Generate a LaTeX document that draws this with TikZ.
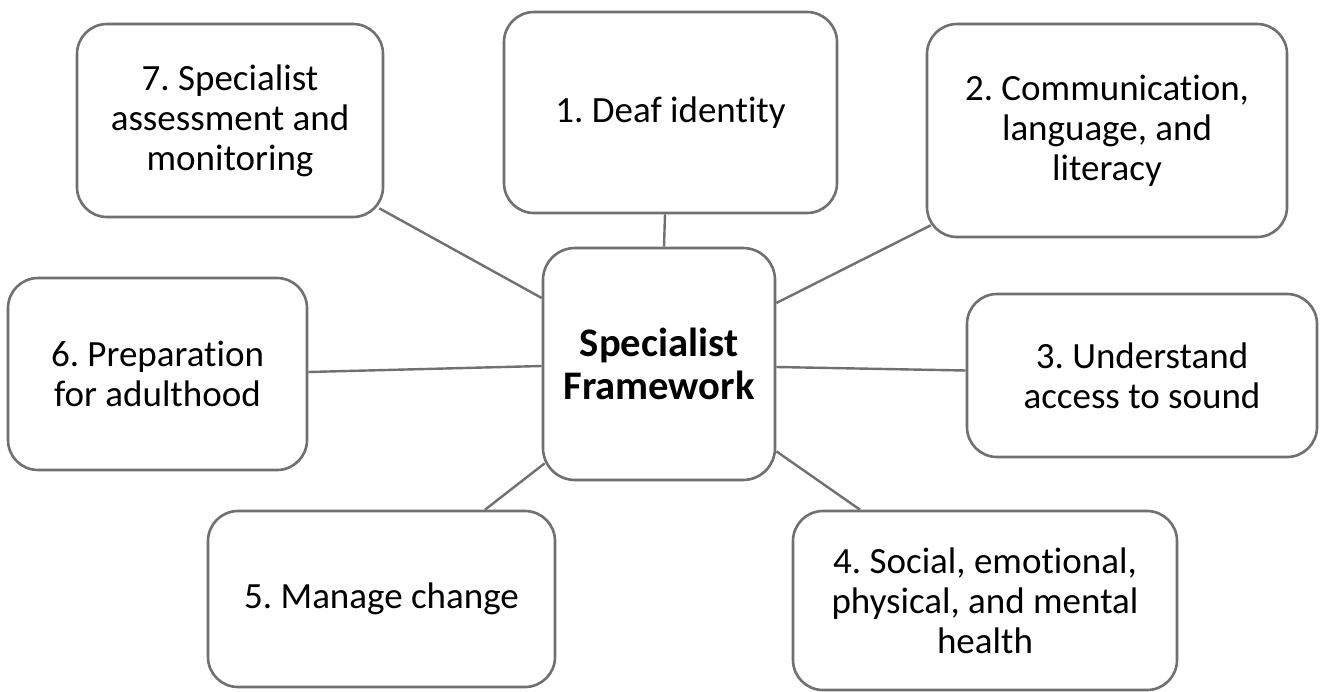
\documentclass[tikz,border=0pt]{standalone}
\usepackage{fontspec}
\setmainfont{Carlito}[Ligatures=NoCommon]
\definecolor{edgegray}{RGB}{112,112,112}
\tikzset{
  topic/.style={draw=edgegray, line width=1.3pt, rounded corners=15pt, fill=white,
    align=center, inner sep=0pt, font=\fontsize{18.5}{20}\selectfont},
  hub/.style={topic, rounded corners=16pt, font=\fontsize{20.3}{21.5}\selectfont\bfseries},
  link/.style={draw=edgegray, line width=1.2pt}
}
\begin{document}
\frenchspacing
\begin{tikzpicture}[x=0.5pt,y=-0.5pt]
\useasboundingbox[fill=white] (0,0) rectangle (1320,691);
\node[hub, minimum width=116pt, minimum height=116pt] (c) at (659,364) {Specialist\\Framework};
\node[topic, minimum width=153pt, minimum height=96.5pt] (b7) at (230,120.5) {7. Specialist\\assessment and\\monitoring};
\node[topic, minimum width=166.5pt, minimum height=100.5pt] (b1) at (670.5,112.5) {1. Deaf identity};
\node[topic, minimum width=180pt, minimum height=106.5pt] (b2) at (1107,130.5) {2. Communication,\\language, and\\literacy};
\node[topic, minimum width=149.5pt, minimum height=96pt] (b6) at (157.5,374) {6. Preparation\\for adulthood};
\node[topic, minimum width=175pt, minimum height=81.5pt] (b3) at (1142,375.5) {3. Understand\\access to sound};
\node[topic, minimum width=173.5pt, minimum height=88pt] (b5) at (381.5,599) {5. Manage change};
\node[topic, minimum width=192pt, minimum height=89.5pt] (b4) at (985,600.5) {4. Social, emotional,\\physical, and mental\\health};
\draw[link] ([shift={(-5,-10)}]b7.south east) -- ([shift={(0,-66)}]c.west);
\draw[link] ([shift={(-5.5,0)}]b1.south) -- ([shift={(5,0)}]c.north);
\draw[link] ([shift={(5,-13)}]b2.south west) -- ([shift={(0,-61)}]c.east);
\draw[link] ([shift={(0,-2)}]b6.east) -- ([shift={(0,2)}]c.west);
\draw[link] ([shift={(0,3)}]c.east) -- ([shift={(0,-5)}]b3.west);
\draw[link] ([shift={(103.5,0)}]b5.north) -- ([shift={(3,-18)}]c.south west);
\draw[link] ([shift={(0,-30)}]c.south east) -- ([shift={(-125,0)}]b4.north);
\end{tikzpicture}
\end{document}
